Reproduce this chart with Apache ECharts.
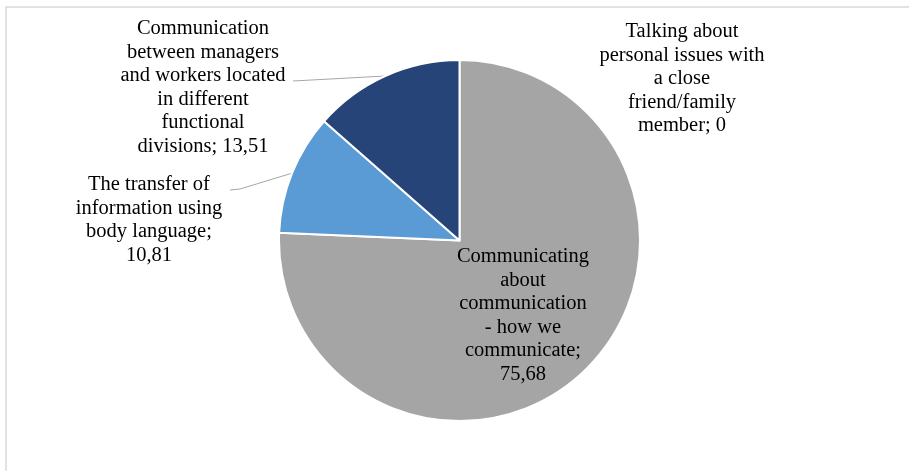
<!DOCTYPE html>
<html>
<head>
<meta charset="utf-8">
<script src="https://cdn.jsdelivr.net/npm/echarts@6/dist/echarts.min.js"></script>
<style>
  html, body { margin: 0; padding: 0; background: #fff; }
  #chart { width: 909px; height: 471px; }
</style>
</head>
<body>
<div id="chart"></div>
<script>
// Slice names (with the line breaks used in their labels), in clockwise order from 12 o'clock
const categories = [
  'Talking about\npersonal issues with\na close\nfriend/family\nmember',
  'Communicating\nabout\ncommunication\n- how we\ncommunicate',
  'The transfer of\ninformation using\nbody language',
  'Communication\nbetween managers\nand workers located\nin different\nfunctional\ndivisions'
];
// Share of responses, %
const values = [0, 75.68, 10.81, 13.51];
// Text between name and value in each label
const valueSeparators = ['; ', ';\n', ';\n', '; '];

const sliceColors = ['#7f7f7f', '#a5a5a5', '#5b9bd5', '#264478'];

// Label placement: centre x, top y, and whether a leader line is drawn
const labelPlacement = [
  { x: 682, y: 20, line: false },
  { x: 523, y: 245, line: false },
  { x: 149, y: 173, line: true, end: [230, 190], elbow: [240, 189] },
  { x: 203, y: 17, line: true, end: [293, 81], elbow: null }
];

const chart = echarts.init(document.getElementById('chart'));

const seriesData = categories.map((name, i) => ({
  name: name,
  value: values[i],
  itemStyle: { color: sliceColors[i] },
  labelLine: { show: labelPlacement[i].line }
}));

const fmt = v => String(v).replace('.', ',');

chart.setOption({
  animation: false,
  graphic: [{
    type: 'rect',
    shape: { x: 6, y: 7, width: 1200, height: 1200 },
    style: { fill: 'none', stroke: '#d9d9d9', lineWidth: 1.5 },
    silent: true
  }],
  series: [{
    type: 'pie',
    center: [459.5, 240.5],
    radius: 180.5,
    startAngle: 90,
    clockwise: true,
    avoidLabelOverlap: false,
    stillShowZeroSum: true,
    itemStyle: { borderColor: '#ffffff', borderWidth: 2 },
    label: {
      show: true,
      position: 'outside',
      fontFamily: '"Liberation Serif", "Times New Roman", serif',
      fontSize: 20.5,
      lineHeight: 23.5,
      color: '#000000',
      align: 'center',
      formatter: p => p.name + valueSeparators[p.dataIndex] + fmt(p.value)
    },
    labelLine: {
      length: 10,
      length2: 10,
      lineStyle: { color: '#a6a6a6', width: 1 }
    },
    labelLayout: function (params) {
      const pl = labelPlacement[params.dataIndex];
      const out = { x: pl.x, y: pl.y, align: 'center', verticalAlign: 'top' };
      if (pl.line && params.labelLinePoints) {
        const anchor = params.labelLinePoints[0];
        const mid = pl.elbow || pl.end;
        out.labelLinePoints = [anchor, mid, pl.end];
      }
      return out;
    },
    emphasis: { disabled: true },
    data: seriesData
  }]
});
</script>
</body>
</html>
